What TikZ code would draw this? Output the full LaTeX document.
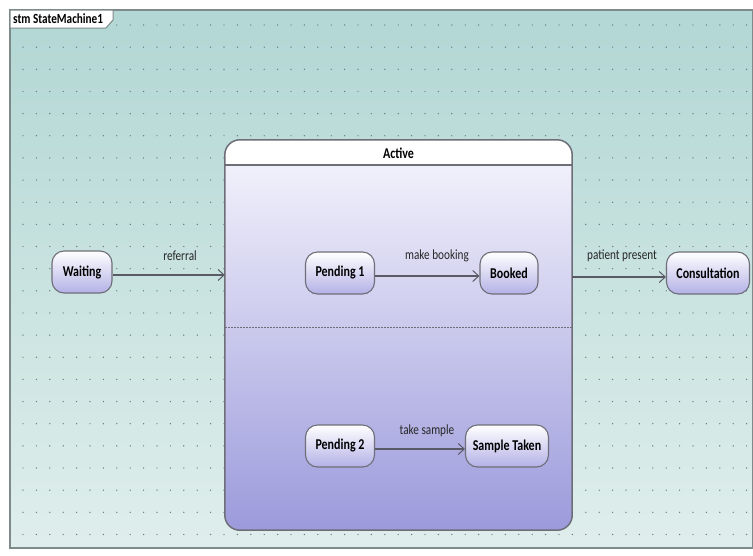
\documentclass[tikz,border=0pt]{standalone}
\usepackage{fontspec}
\setmainfont{Carlito}[FakeStretch=0.8]
\usetikzlibrary{arrows.meta}
\definecolor{bgtop}{HTML}{B2D7D4}
\definecolor{bgbot}{HTML}{DFEEEC}
\definecolor{framec}{HTML}{7E8A89}
\definecolor{dotc}{HTML}{5E7C7A}
\definecolor{acttop}{HTML}{F6F6FD}
\definecolor{actbot}{HTML}{9C9ADB}
\definecolor{sttop}{HTML}{FFFFFF}
\definecolor{stbot}{HTML}{B3B1E6}
\definecolor{stborder}{HTML}{6E6E78}
\definecolor{arrc}{HTML}{5A5A66}
\tikzset{
  statebox/.style={draw=stborder, line width=1.1pt, rounded corners=12pt,
    top color=sttop, bottom color=stbot, minimum height=42pt,
    font=\bfseries\fontsize{15}{17}\selectfont, inner sep=0pt},
  trans/.style={draw=arrc, line width=1.1pt, -{Straight Barb[length=6pt,width=11pt,line width=1pt]}},
  translabel/.style={font=\fontsize{14}{16}\selectfont, text=black!85}
}
\begin{document}
\begin{tikzpicture}[x=1pt,y=-1pt]
\useasboundingbox (0,0) rectangle (753,555);
\fill[white] (0,0) rectangle (753,555);
% diagram background
\shade[top color=bgtop, bottom color=bgbot] (10,10) rectangle (753,548);
% dot grid
\foreach \y in {0,...,23}{
  \foreach \x in {0,...,54}{
    \fill[dotc] ({23+13.4*\x},{25+22.15*\y}) circle (0.7);
  }
}
\draw[framec, line width=1.5pt] (10,10) rectangle (753,548);
% title tab
\draw[framec, line width=1pt, fill=white] (10,10) -- (113,10) -- (113,20) -- (106,28) -- (10,28) -- cycle;
\node[anchor=west, font=\bfseries\fontsize{14}{16}\selectfont, inner sep=0pt] (title) at (13,19) {stm StateMachine1};
% composite state Active
\node[rounded corners=15pt, top color=acttop, bottom color=actbot, minimum width=347pt, minimum height=390pt, inner sep=0pt] (Active) at (398.5,335) {};
\begin{scope}
  \clip[rounded corners=15pt] (Active.north west) rectangle (Active.south east);
  \fill[white] (Active.north west) rectangle (572,165);
\end{scope}
\coordinate (hdrL) at (225,165);
\coordinate (hdrR) at (572,165);
\draw[stborder, line width=1.2pt] (hdrL) -- (hdrR);
\coordinate (divL) at (225,327);
\coordinate (divR) at (572,327);
\draw[stborder, line width=1pt, dash pattern=on 2pt off 1pt] (divL) -- (divR);
\draw[stborder, line width=1.5pt, rounded corners=15pt] (Active.north west) rectangle (Active.south east);
\node[font=\bfseries\fontsize{15}{17}\selectfont] (ActiveName) at (398.5,153) {Active};
% simple states
\node[statebox, minimum width=60pt] (Waiting) at (82,272) {Waiting};
\node[statebox, minimum width=69pt] (P1) at (340,273) {Pending 1};
\node[statebox, minimum width=58pt] (Booked) at (509,273) {Booked};
\node[statebox, minimum width=83pt] (Consult) at (708,273) {Consultation};
\node[statebox, minimum width=69pt] (P2) at (340,446) {Pending 2};
\node[statebox, minimum width=83pt] (Sample) at (507,446) {Sample Taken};
% transitions
\coordinate (refin) at (Active.west |- 0,275);
\draw[trans] (Waiting.east |- refin) -- (refin);
\node[translabel] (lref) at (180,256) {referral};
\draw[trans] (P1.east |- 0,276) -- (Booked.west |- 0,276);
\node[translabel] (lmake) at (437,256) {make booking};
\coordinate (ppout) at (Active.east |- 0,277);
\draw[trans] (ppout) -- (Consult.west |- ppout);
\node[translabel] (lpp) at (622,256) {patient present};
\draw[trans] (P2.east |- 0,449) -- (Sample.west |- 0,449);
\node[translabel] (lts) at (427,431) {take sample};
\end{tikzpicture}
\end{document}
